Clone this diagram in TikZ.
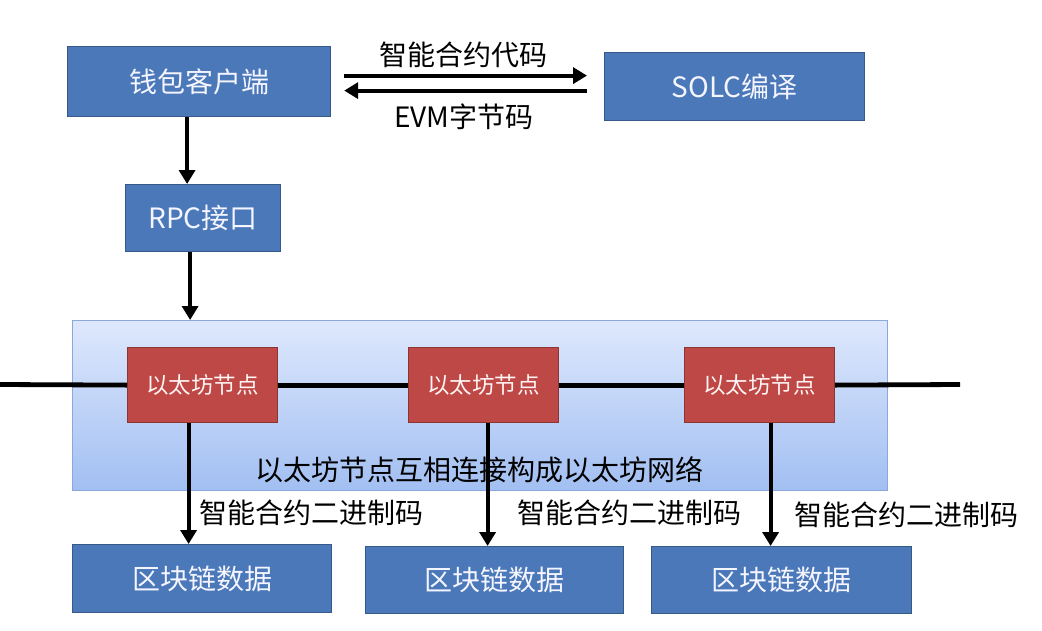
\documentclass[tikz,border=0pt]{standalone}
\usepackage{fontspec}
\setmainfont{Noto Sans CJK SC}
\usetikzlibrary{arrows.meta,calc}
\definecolor{boxblue}{HTML}{4A78B9}
\definecolor{boxblueedge}{HTML}{36598A}
\definecolor{nodered}{HTML}{BE4845}
\definecolor{noderededge}{HTML}{8C3634}
\definecolor{nettop}{HTML}{DEE8FC}
\definecolor{netbot}{HTML}{A2BFF2}
\definecolor{netedge}{HTML}{8AA8DC}
\tikzset{
  bluebox/.style={draw=boxblueedge, line width=1.2pt, fill=boxblue, text=white!96!blue,
    font=\fontsize{28}{30}\selectfont, inner sep=0pt, anchor=north west},
  redbox/.style={draw=noderededge, line width=1.2pt, fill=nodered, text=white!96!red,
    font=\fontsize{22.5}{24}\selectfont, inner sep=0pt, anchor=north west,
    minimum width=150pt, minimum height=75pt},
  arr/.style={line width=4.2pt, -{Triangle[length=14pt,width=16pt]}},
  netline/.style={line width=4.8pt},
  lbl/.style={font=\fontsize{28}{30}\selectfont, text=black, inner sep=0pt},
}
\begin{document}
\begin{tikzpicture}[x=1pt,y=-1pt]
\useasboundingbox (0,0) rectangle (1042,630);
\fill[white] (0,0) rectangle (1042,630);
% network background
\node[draw=netedge, line width=1pt, top color=nettop, bottom color=netbot, inner sep=0pt,
  anchor=north west, minimum width=815pt, minimum height=170pt] (net) at (72,320) {};
\node[lbl] (netlbl) at (479,470) {以太坊节点互相连接构成以太坊网络};
% top boxes
\node[bluebox, minimum width=263pt, minimum height=70pt] (w) at (67,46) {钱包客户端};
\node[bluebox, minimum width=155pt, minimum height=67pt] (rpc) at (125,184) {RPC接口};
\node[bluebox, minimum width=260pt, minimum height=68pt] (s) at (604,52) {SOLC编译};
% red nodes
\node[redbox] (r1) at (127,347) {以太坊节点};
\node[redbox] (r2) at (408,347) {以太坊节点};
\node[redbox] (r3) at (684,347) {以太坊节点};
% bottom boxes
\node[bluebox, minimum width=259pt, minimum height=68pt] (b1) at (72,544) {区块链数据};
\node[bluebox, minimum width=258pt, minimum height=67pt] (b2) at (365,546) {区块链数据};
\node[bluebox, minimum width=260pt, minimum height=67pt] (b3) at (651,546) {区块链数据};
% network line
\coordinate (lineL) at (0,384.5);
\coordinate (lineR) at (960,384.5);
\draw[netline] (lineL) -- (r1.west);
\draw[netline] (r1.east) -- (r2.west);
\draw[netline] (r2.east) -- (r3.west);
\draw[netline] (r3.east) -- (lineR);
% top arrows
\coordinate (a1) at ($(w.east)+(13pt,6pt)$);
\coordinate (a2) at ($(w.east)+(13pt,-9pt)$);
\draw[arr] (a1) -- ($(a1 -| s.west)+(-17pt,0)$);
\draw[arr] ($(a2 -| s.west)+(-17pt,0)$) -- (a2);
\node[lbl] (code) at (463,55) {智能合约代码};
\node[lbl] (evm) at (464,117) {EVM字节码};
% vertical arrows
\draw[arr] ([xshift=-12pt]w.south) -- ([xshift=-12pt]w.south |- rpc.north);
\draw[arr] ([xshift=-13pt]rpc.south) -- ([xshift=-13pt]rpc.south |- net.north);
\draw[arr] ([xshift=-14pt]r1.south) -- ([xshift=-14pt]r1.south |- b1.north);
\draw[arr] ([xshift=4pt]r2.south) -- ([xshift=4pt]r2.south |- b2.north);
\draw[arr] ([xshift=11pt]r3.south) -- ([xshift=11pt]r3.south |- b3.north);
% binary code labels
\node[lbl, anchor=west] (bin1) at (199,513) {智能合约二进制码};
\node[lbl, anchor=west] (bin2) at (517,513) {智能合约二进制码};
\node[lbl, anchor=west] (bin3) at (794,515) {智能合约二进制码};
\end{tikzpicture}
\end{document}
